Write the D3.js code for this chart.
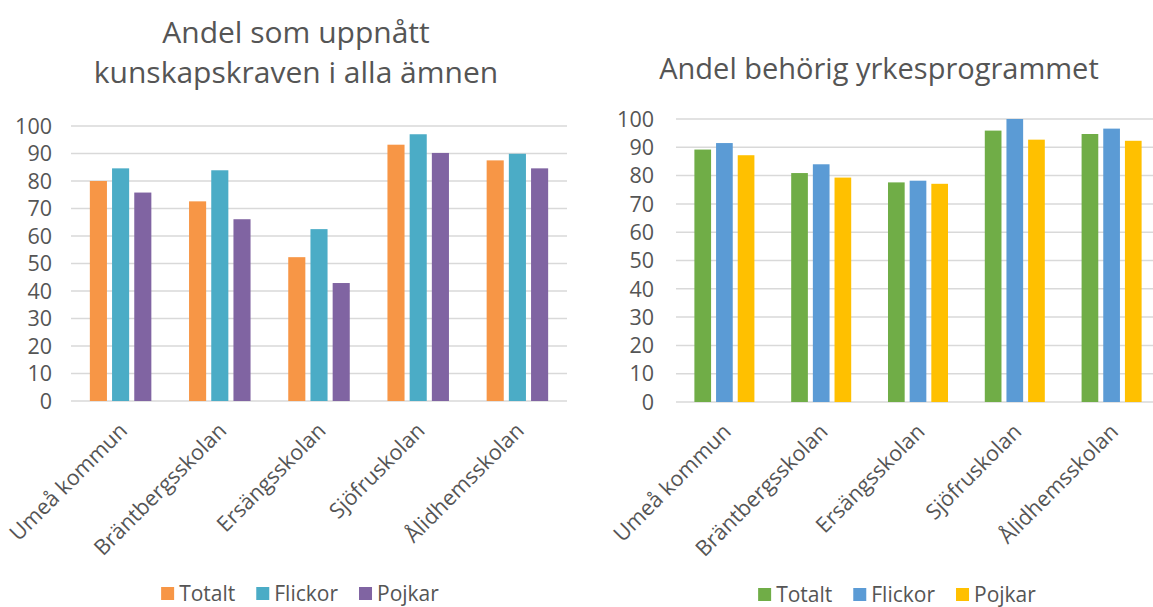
<!DOCTYPE html>
<html>
  <head>
    <meta charset="utf-8">
    <script src="https://cdn.jsdelivr.net/npm/d3@7"></script>
    <style>
      body { margin: 0; background: #fff; }
      svg text { font-family: "Open Sans", "DejaVu Sans", sans-serif; fill: #555; }
    </style>
  </head>
  <body>
    <svg id="chart" width="1153" height="607"></svg>
    <script>
      // data
      var schools = ["Umeå kommun", "Bräntbergsskolan", "Ersängsskolan", "Sjöfruskolan", "Ålidhemsskolan"];
      var seriesNames = ["Totalt", "Flickor", "Pojkar"];
      var yTicks = [0, 10, 20, 30, 40, 50, 60, 70, 80, 90, 100];

      // Andel som uppnått kunskapskraven i alla ämnen
      var kunskapTotalt  = [80.0, 72.6, 52.3, 93.2, 87.5];
      var kunskapFlickor = [84.6, 83.9, 62.5, 97.0, 89.9];
      var kunskapPojkar  = [75.8, 66.1, 42.9, 90.2, 84.6];

      // Andel behörig yrkesprogrammet
      var behorigTotalt  = [89.2, 80.9, 77.6, 95.9, 94.7];
      var behorigFlickor = [91.5, 84.0, 78.2, 100.0, 96.6];
      var behorigPojkar  = [87.2, 79.3, 77.1, 92.7, 92.3];

      var svg = d3.select("#chart");

      function drawChart(opt) {
        var g = svg.append("g");
        var values = opt.values;

        var x = d3.scaleBand().domain(schools).range([opt.x0, opt.x1]);
        var bw = x.bandwidth();
        var cw = bw * 0.62;
        var xs = d3.scaleBand().domain(seriesNames)
          .range([(bw - cw) / 2, (bw + cw) / 2])
          .paddingInner(0.23);
        var y = d3.scaleLinear().domain([0, 100]).range([opt.y0, opt.yTop]);

        // gridlines
        g.selectAll("line.grid")
          .data(yTicks)
          .join("line")
          .classed("grid", true)
          .attr("x1", opt.x0)
          .attr("x2", Math.min(opt.x1, 1153))
          .attr("y1", d => y(d))
          .attr("y2", d => y(d))
          .style("stroke", "#d9d9d9")
          .style("stroke-width", 1.5);

        // y tick labels
        g.selectAll("text.ytick")
          .data(yTicks)
          .join("text")
          .classed("ytick", true)
          .attr("x", opt.tickRight)
          .attr("y", d => y(d))
          .attr("dy", "0.36em")
          .attr("text-anchor", "end")
          .style("font-size", "21.5px")
          .text(d => d);

        // bars
        seriesNames.forEach(function(s, si) {
          g.selectAll("rect.s" + si)
            .data(values[si])
            .join("rect")
            .attr("class", "s" + si)
            .attr("x", (d, i) => x(schools[i]) + xs(s))
            .attr("width", xs.bandwidth())
            .attr("y", d => y(d))
            .attr("height", d => y(0) - y(d))
            .style("fill", opt.colors[si]);
        });

        // category labels, rotated
        g.selectAll("text.cat")
          .data(schools)
          .join("text")
          .classed("cat", true)
          .attr("transform", d => "translate(" + (x(d) + bw / 2 + 8) + "," + (opt.y0 + 31) + ") rotate(-45)")
          .attr("text-anchor", "end")
          .style("font-size", "21.5px")
          .text(d => d);

        // title
        var title = g.append("text")
          .attr("x", opt.titleX)
          .attr("text-anchor", "middle")
          .style("font-size", opt.titleSize + "px");
        opt.title.forEach(function(line, i) {
          title.append("tspan")
            .attr("x", opt.titleX)
            .attr("y", opt.titleY + i * 40)
            .text(line);
        });

        // legend
        var leg = g.append("g");
        var cx = 0;
        seriesNames.forEach(function(s, si) {
          var item = leg.append("g").attr("transform", "translate(" + cx + ",0)");
          item.append("rect")
            .attr("x", 0).attr("y", -14)
            .attr("width", 13).attr("height", 13)
            .style("fill", opt.colors[si]);
          var t = item.append("text")
            .attr("x", 18).attr("y", 0)
            .style("font-size", "21px")
            .text(s);
          cx += 18 + t.node().getComputedTextLength() + 21;
        });
        var legW = cx - 21;
        leg.attr("transform", "translate(" + (opt.legendX - legW / 2) + "," + opt.legendY + ")");
      }

      drawChart({
        values: [kunskapTotalt, kunskapFlickor, kunskapPojkar],
        colors: ["#f79646", "#4bacc6", "#8064a2"],
        x0: 71, x1: 567, y0: 401, yTop: 126, tickRight: 52,
        title: ["Andel som uppnått", "kunskapskraven i alla ämnen"],
        titleX: 296, titleY: 43, titleSize: 30,
        legendX: 300, legendY: 601
      });

      drawChart({
        values: [behorigTotalt, behorigFlickor, behorigPojkar],
        colors: ["#70ad47", "#5b9bd5", "#ffc000"],
        x0: 676, x1: 1160, y0: 402, yTop: 119, tickRight: 654,
        title: ["Andel behörig yrkesprogrammet"],
        titleX: 879, titleY: 79, titleSize: 29,
        legendX: 897, legendY: 602
      });
    </script>
  </body>
</html>
